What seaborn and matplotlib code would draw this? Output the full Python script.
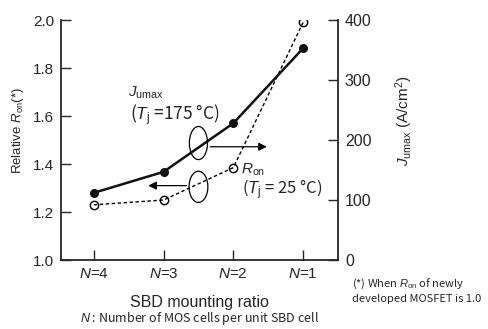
import matplotlib
matplotlib.use("Agg")
import matplotlib.pyplot as plt
import seaborn as sns
import pandas as pd
from matplotlib.patches import Ellipse

# ── data ─────────────────────────────────────────────────────
ratio_labels = [r'$N$=4', r'$N$=3', r'$N$=2', r'$N$=1']
ron_rel = [1.23, 1.25, 1.385, 1.99]        # relative Ron, Tj=25 C (left axis)
j_umax = [112, 147, 228, 353]              # Jumax A/cm2, Tj=175 C (right axis)

df = pd.DataFrame({'pos': range(len(ratio_labels)), 'ron': ron_rel, 'j': j_umax})

sns.set_style('ticks')
plt.rcParams['font.family'] = ['Liberation Sans', 'DejaVu Sans']
plt.rcParams['mathtext.fontset'] = 'custom'
plt.rcParams['mathtext.rm'] = 'Liberation Sans'
plt.rcParams['mathtext.it'] = 'Liberation Sans:italic'
JP = ['Noto Sans CJK JP', 'DejaVu Sans']

fig = plt.figure(figsize=(4.88, 3.29), dpi=100)
ax = fig.add_axes([0.125, 0.2097, 0.5676, 0.7293])
ax2 = ax.twinx()

# Ron: dashed line, open circles, left axis
sns.lineplot(data=df, x='pos', y='ron', ax=ax, color='black', linewidth=1.0,
             linestyle=(0, (2.5, 1.8)), marker='o', markersize=6,
             markerfacecolor='none', markeredgecolor='black', markeredgewidth=1.0)
# Jumax: solid line, filled circles, right axis
sns.lineplot(data=df, x='pos', y='j', ax=ax2, color='#111111', linewidth=1.8,
             marker='o', markersize=6.5, markeredgewidth=0)

ax.set_xlim(-0.47, 3.5)
ax.set_ylim(1.0, 2.0)
ax2.set_ylim(0, 400)
ax.set_yticks([1.0, 1.2, 1.4, 1.6, 1.8, 2.0])
ax2.set_yticks([0, 100, 200, 300, 400])
ax.set_xticks(range(len(ratio_labels)))
ax.set_xticklabels(ratio_labels)

for a in (ax, ax2):
    a.spines['top'].set_visible(False)
    for s in a.spines.values():
        s.set_linewidth(1.3)
    a.tick_params(direction='in', length=7, width=1.0, labelsize=11, pad=5)
ax2.tick_params(labelsize=11.5)
ax.spines['right'].set_visible(False)
ax2.spines['left'].set_visible(False)
ax2.spines['bottom'].set_visible(False)

ax.set_xlabel('SBD mounting ratio', fontsize=11.5, labelpad=10)
ax.set_ylabel(r'Relative $R_{\mathrm{on}}$(*)', fontsize=9.5)
ax.yaxis.set_label_coords(-0.125, 0.54)
ax2.set_ylabel(r'$J_{\mathrm{umax}}$ (A/cm$^2$)', fontsize=11)
ax2.yaxis.set_label_coords(1.2, 0.58)

# annotations
ax.text(0.49, 1.68, r'$J_{\mathrm{umax}}$', fontsize=11)
ax.text(0.52, 1.583, r'($T_{\mathrm{j}}$ =175 °C)', fontsize=12.5, family=JP)
ax.add_patch(Ellipse((1.50, 1.4875), 0.26, 0.138, fill=False, lw=0.9, color='black'))
ax.annotate('', xy=(2.52, 1.472), xytext=(1.63, 1.472),
            arrowprops=dict(arrowstyle='-|>', color='black', lw=0.9,
                            mutation_scale=12))
ax.add_patch(Ellipse((1.50, 1.305), 0.27, 0.13, fill=False, lw=0.9, color='black'))
ax.annotate('', xy=(0.74, 1.31), xytext=(1.37, 1.31),
            arrowprops=dict(arrowstyle='-|>', color='black', lw=0.9,
                            mutation_scale=12))
ax.text(2.11, 1.36, r'$R_{\mathrm{on}}$', fontsize=11)
ax.text(2.13, 1.272, r'($T_{\mathrm{j}}$ = 25 °C)', fontsize=12, family=JP)

fig.text(0.722, 0.159, '(*) When $R_{\\mathrm{on}}$ of newly\ndeveloped MOSFET is 1.0',
         fontsize=8, family=JP, va='top', linespacing=1.35)
fig.text(0.409, 0.033, r'$N$ : Number of MOS cells per unit SBD cell',
         fontsize=9, family=JP, ha='center', va='center')

fig.savefig('out.png', dpi=100)
